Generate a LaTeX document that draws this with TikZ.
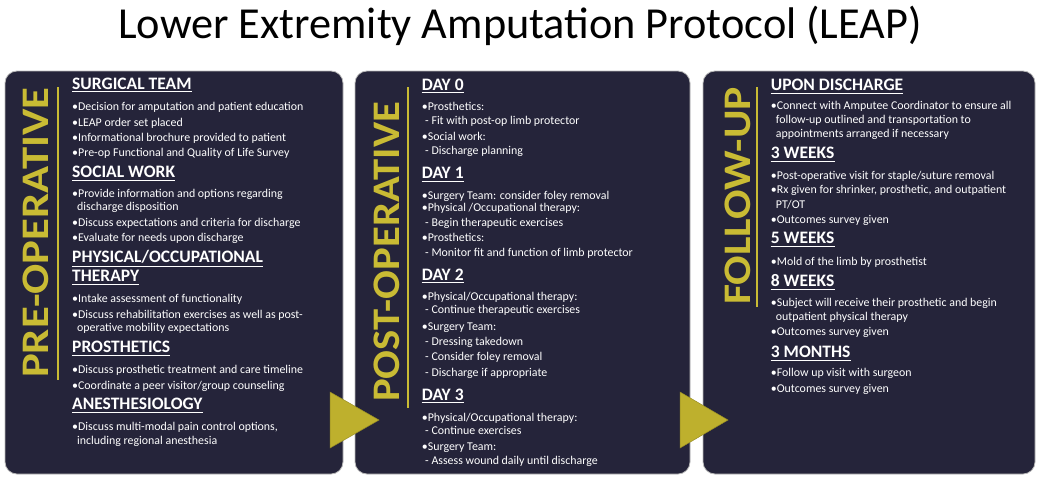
\documentclass[tikz,border=0pt]{standalone}
\usepackage{fontspec}
\setmainfont{Carlito}
\definecolor{panelbg}{RGB}{37,36,58}
\definecolor{leapyellow}{RGB}{201,187,52}
\definecolor{triyellow}{RGB}{190,176,45}
\tikzset{
  panel/.style={fill=panelbg, draw=gray!55, line width=0.8pt, rounded corners=12pt},
  body/.style={anchor=base west, inner sep=0pt, text=white, font=\fontsize{11.9}{13}\selectfont},
  headtxt/.style={anchor=base west, inner sep=0pt, text=white, font=\fontsize{17.5}{20}\selectfont\bfseries},
  uline/.style={draw=white, line width=1.1pt},
  vtitle/.style={anchor=base west, inner sep=0pt, rotate=90, text=leapyellow, font=\fontsize{39}{40}\selectfont\bfseries},
  vline/.style={draw=leapyellow, line width=1.8pt},
  arrowtri/.style={fill=triyellow, draw=triyellow!80!black, line width=0.5pt}
}
\newcommand{\tl}[4]{\node[body] (#1) at (#2,#3) {#4};}
\newcommand{\hd}[4]{\node[headtxt] (#1) at (#2,#3) {#4};
  \draw[uline] ([yshift=-2.6pt]#1.south west) -- ([yshift=-2.6pt]#1.south east);}
\begin{document}
\begin{tikzpicture}[x=1pt,y=-1pt]
\useasboundingbox (0,0) rectangle (1040,482);
\fill[white] (0,0) rectangle (1040,482);
% title
\node[anchor=base, inner sep=0pt, font=\fontsize{44.3}{46}\selectfont] (title) at (520,38) {Lower Extremity Amputation Protocol (LEAP)};
% panels
\draw[panel] (5,71) rectangle (343,474);
\draw[panel] (355,71) rectangle (690,474);
\draw[panel] (703,71) rectangle (1035,474);
% vertical titles
\node[vtitle] (v1) at (48,378) {\scalebox{1.146}[1]{PRE-OPERATIVE}};
\node[vtitle] (v2) at (399,402) {\scalebox{1.094}[1]{POST-OPERATIVE}};
\node[vtitle] (v3) at (750,305) {\scalebox{1.12}[1]{FOLLOW-UP}};
\draw[vline] (58,87) -- (58,380);
\draw[vline] (408,87) -- (408,408);
\draw[vline] (757,87) -- (757,307);
% panel 1
\hd{a1}{72}{89}{SURGICAL TEAM}
\tl{a2}{72}{110.7}{•Decision for amputation and patient education}
\tl{a3}{72}{126}{•LEAP order set placed}
\tl{a4}{72}{141.3}{•Informational brochure provided to patient}
\tl{a5}{72}{156.7}{•Pre-op Functional and Quality of Life Survey}
\hd{a6}{72}{177.3}{SOCIAL WORK}
\tl{a7}{72}{197.3}{•Provide information and options regarding}
\tl{a8}{77}{210.7}{discharge disposition}
\tl{a9}{72}{226.7}{•Discuss expectations and criteria for discharge}
\tl{a10}{72}{241.7}{•Evaluate for needs upon discharge}
\hd{a11}{72}{262.7}{PHYSICAL/OCCUPATIONAL}
\hd{a12}{72}{281.7}{THERAPY}
\tl{a13}{72}{302.7}{•Intake assessment of functionality}
\tl{a14}{72}{318.3}{•Discuss rehabilitation exercises as well as post-}
\tl{a15}{77}{331.7}{operative mobility expectations}
\hd{a16}{72}{352.3}{PROSTHETICS}
\tl{a17}{72}{373.3}{•Discuss prosthetic treatment and care timeline}
\tl{a18}{72}{389}{•Coordinate a peer visitor/group counseling}
\hd{a19}{72}{409.3}{ANESTHESIOLOGY}
\tl{a20}{72}{430}{•Discuss multi-modal pain control options,}
\tl{a21}{77}{444.3}{including regional anesthesia}
% panel 2
\hd{b1}{421.7}{90}{DAY 0}
\tl{b2}{421.7}{110}{•Prosthetics:}
\tl{b3}{425}{124.3}{- Fit with post-op limb protector}
\tl{b4}{421.7}{140}{•Social work:}
\tl{b5}{425}{154.3}{- Discharge planning}
\hd{b6}{421.7}{178.3}{DAY 1}
\tl{b7}{421.7}{199}{•Surgery Team: consider foley removal}
\tl{b8}{421.7}{211.7}{•Physical /Occupational therapy:}
\tl{b9}{425}{226}{- Begin therapeutic exercises}
\tl{b10}{421.7}{241.7}{•Prosthetics:}
\tl{b11}{425}{256}{- Monitor fit and function of limb protector}
\hd{b12}{421.7}{280}{DAY 2}
\tl{b13}{421.7}{300}{•Physical/Occupational therapy:}
\tl{b14}{425}{313.3}{- Continue therapeutic exercises}
\tl{b15}{421.7}{330}{•Surgery Team:}
\tl{b16}{425}{345}{- Dressing takedown}
\tl{b17}{425}{360.7}{- Consider foley removal}
\tl{b18}{425}{376.7}{- Discharge if appropriate}
\hd{b19}{421.7}{400}{DAY 3}
\tl{b20}{421.7}{421}{•Physical/Occupational therapy:}
\tl{b21}{425}{434.3}{- Continue exercises}
\tl{b22}{421.7}{450.7}{•Surgery Team:}
\tl{b23}{425}{464.3}{- Assess wound daily until discharge}
% panel 3
\hd{c1}{770.7}{90.7}{UPON DISCHARGE}
\tl{c2}{770.7}{109.3}{•Connect with Amputee Coordinator to ensure all}
\tl{c3}{775.7}{123.3}{follow-up outlined and transportation to}
\tl{c4}{775.7}{137.7}{appointments arranged if necessary}
\hd{c5}{770.7}{158.3}{3 WEEKS}
\tl{c6}{770.7}{179.3}{•Post-operative visit for staple/suture removal}
\tl{c7}{770.7}{193.3}{•Rx given for shrinker, prosthetic, and outpatient}
\tl{c8}{775.7}{208.3}{PT/OT}
\tl{c9}{770.7}{223.3}{•Outcomes survey given}
\hd{c10}{770.7}{243.3}{5 WEEKS}
\tl{c11}{770.7}{265}{•Mold of the limb by prosthetist}
\hd{c12}{770.7}{286.7}{8 WEEKS}
\tl{c13}{770.7}{306.7}{•Subject will receive their prosthetic and begin}
\tl{c14}{775.7}{320}{outpatient physical therapy}
\tl{c15}{770.7}{335}{•Outcomes survey given}
\hd{c16}{770.7}{357.3}{3 MONTHS}
\tl{c17}{770.7}{376.7}{•Follow up visit with surgeon}
\tl{c18}{770.7}{392.7}{•Outcomes survey given}
% arrow triangles
\draw[arrowtri] (330,392) -- (330,448) -- (379,420) -- cycle;
\draw[arrowtri] (680,392) -- (680,448) -- (728,420) -- cycle;
\end{tikzpicture}
\end{document}
